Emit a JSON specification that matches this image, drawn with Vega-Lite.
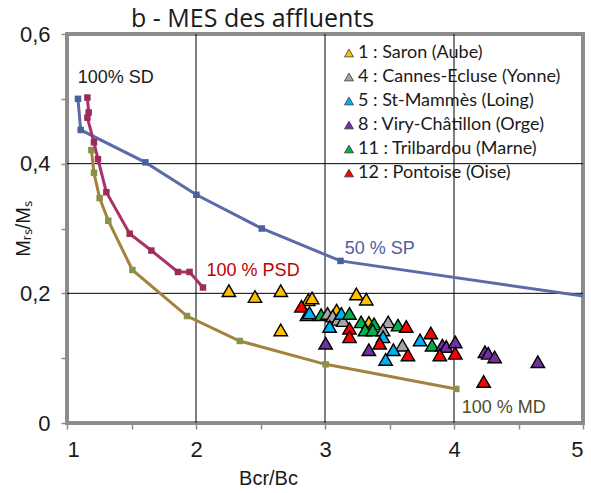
{
  "$schema": "https://vega.github.io/schema/vega-lite/v6.json",
  "width": 516,
  "height": 389,
  "autosize": {"type": "none"},
  "padding": {"left": 67, "top": 34, "right": 8, "bottom": 70},
  "background": "white",
  "config": {
    "view": {"stroke": "#8c8c8c", "strokeWidth": 4},
    "axis": {
      "domain": false, "grid": false,
      "tickColor": "#8c8c8c", "tickWidth": 1.5, "tickSize": 6,
      "labelFont": "Liberation Sans", "labelFontSize": 22, "labelColor": "#1a1a1a",
      "titleFont": "Liberation Sans", "titleFontSize": 20, "titleFontWeight": "normal", "titleColor": "#1a1a1a"
    }
  },
  "title": {"text": "b - MES des affluents", "font": "Open Sans", "fontSize": 25, "fontWeight": "normal", "anchor": "start", "frame": "group", "dx": 64, "offset": -9, "color": "#1a1a1a"},
  "datasets": {
    "curves": [
      {"c": "SP", "i": 1, "x": 1.085, "y": 0.5},
      {"c": "SP", "i": 2, "x": 1.106, "y": 0.452},
      {"c": "SP", "i": 3, "x": 1.608, "y": 0.402},
      {"c": "SP", "i": 4, "x": 2.003, "y": 0.352},
      {"c": "SP", "i": 5, "x": 2.51, "y": 0.3},
      {"c": "SP", "i": 6, "x": 3.12, "y": 0.25},
      {"c": "SP", "i": 7, "x": 6.0, "y": 0.167},
      {"c": "PSD", "i": 1, "x": 1.158, "y": 0.502},
      {"c": "PSD", "i": 2, "x": 1.168, "y": 0.479},
      {"c": "PSD", "i": 3, "x": 1.158, "y": 0.471},
      {"c": "PSD", "i": 4, "x": 1.209, "y": 0.433},
      {"c": "PSD", "i": 5, "x": 1.24, "y": 0.407},
      {"c": "PSD", "i": 6, "x": 1.305, "y": 0.356},
      {"c": "PSD", "i": 7, "x": 1.486, "y": 0.292},
      {"c": "PSD", "i": 8, "x": 1.654, "y": 0.266},
      {"c": "PSD", "i": 9, "x": 1.86, "y": 0.233},
      {"c": "PSD", "i": 10, "x": 1.95, "y": 0.233},
      {"c": "PSD", "i": 11, "x": 2.054, "y": 0.209},
      {"c": "MD", "i": 1, "x": 1.189, "y": 0.421},
      {"c": "MD", "i": 2, "x": 1.209, "y": 0.386},
      {"c": "MD", "i": 3, "x": 1.253, "y": 0.347},
      {"c": "MD", "i": 4, "x": 1.32, "y": 0.312},
      {"c": "MD", "i": 5, "x": 1.507, "y": 0.236},
      {"c": "MD", "i": 6, "x": 1.93, "y": 0.165},
      {"c": "MD", "i": 7, "x": 2.339, "y": 0.1265},
      {"c": "MD", "i": 8, "x": 3.005, "y": 0.0905},
      {"c": "MD", "i": 9, "x": 4.018, "y": 0.0525}
    ],
    "sites": [
      {"s": "1 : Saron (Aube)", "x": 2.255, "y": 0.204},
      {"s": "1 : Saron (Aube)", "x": 2.457, "y": 0.195},
      {"s": "1 : Saron (Aube)", "x": 2.657, "y": 0.204},
      {"s": "1 : Saron (Aube)", "x": 2.657, "y": 0.1435},
      {"s": "1 : Saron (Aube)", "x": 2.87, "y": 0.19},
      {"s": "1 : Saron (Aube)", "x": 2.9, "y": 0.193},
      {"s": "1 : Saron (Aube)", "x": 3.09, "y": 0.174},
      {"s": "1 : Saron (Aube)", "x": 3.243, "y": 0.199},
      {"s": "1 : Saron (Aube)", "x": 3.32, "y": 0.191},
      {"s": "1 : Saron (Aube)", "x": 3.34, "y": 0.155},
      {"s": "12 : Pontoise (Oise)", "x": 2.817, "y": 0.18},
      {"s": "5 : St-Mammès (Loing)", "x": 2.86, "y": 0.167},
      {"s": "5 : St-Mammès (Loing)", "x": 2.88, "y": 0.17},
      {"s": "11 : Trilbardou (Marne)", "x": 2.97, "y": 0.167},
      {"s": "4 : Cannes-Ecluse (Yonne)", "x": 3.02, "y": 0.169},
      {"s": "4 : Cannes-Ecluse (Yonne)", "x": 3.06, "y": 0.165},
      {"s": "4 : Cannes-Ecluse (Yonne)", "x": 3.1, "y": 0.16},
      {"s": "4 : Cannes-Ecluse (Yonne)", "x": 3.14, "y": 0.158},
      {"s": "5 : St-Mammès (Loing)", "x": 3.127, "y": 0.169},
      {"s": "5 : St-Mammès (Loing)", "x": 3.036, "y": 0.149},
      {"s": "11 : Trilbardou (Marne)", "x": 3.19, "y": 0.169},
      {"s": "11 : Trilbardou (Marne)", "x": 3.28, "y": 0.156},
      {"s": "11 : Trilbardou (Marne)", "x": 3.38, "y": 0.153},
      {"s": "4 : Cannes-Ecluse (Yonne)", "x": 3.49, "y": 0.156},
      {"s": "11 : Trilbardou (Marne)", "x": 3.566, "y": 0.151},
      {"s": "12 : Pontoise (Oise)", "x": 3.19, "y": 0.146},
      {"s": "11 : Trilbardou (Marne)", "x": 3.31, "y": 0.1435},
      {"s": "11 : Trilbardou (Marne)", "x": 3.37, "y": 0.1435},
      {"s": "4 : Cannes-Ecluse (Yonne)", "x": 3.45, "y": 0.1435},
      {"s": "12 : Pontoise (Oise)", "x": 3.63, "y": 0.149},
      {"s": "12 : Pontoise (Oise)", "x": 3.19, "y": 0.133},
      {"s": "5 : St-Mammès (Loing)", "x": 3.45, "y": 0.133},
      {"s": "8 : Viry-Châtillon (Orge)", "x": 3.005, "y": 0.123},
      {"s": "12 : Pontoise (Oise)", "x": 3.424, "y": 0.123},
      {"s": "4 : Cannes-Ecluse (Yonne)", "x": 3.6, "y": 0.12},
      {"s": "5 : St-Mammès (Loing)", "x": 3.737, "y": 0.128},
      {"s": "8 : Viry-Châtillon (Orge)", "x": 3.34, "y": 0.113},
      {"s": "5 : St-Mammès (Loing)", "x": 3.53, "y": 0.113},
      {"s": "5 : St-Mammès (Loing)", "x": 3.47, "y": 0.098},
      {"s": "12 : Pontoise (Oise)", "x": 3.643, "y": 0.105},
      {"s": "12 : Pontoise (Oise)", "x": 3.82, "y": 0.139},
      {"s": "11 : Trilbardou (Marne)", "x": 3.83, "y": 0.12},
      {"s": "8 : Viry-Châtillon (Orge)", "x": 3.91, "y": 0.12},
      {"s": "8 : Viry-Châtillon (Orge)", "x": 3.94, "y": 0.118},
      {"s": "8 : Viry-Châtillon (Orge)", "x": 4.01, "y": 0.125},
      {"s": "12 : Pontoise (Oise)", "x": 3.89, "y": 0.105},
      {"s": "12 : Pontoise (Oise)", "x": 4.01, "y": 0.1075},
      {"s": "8 : Viry-Châtillon (Orge)", "x": 4.24, "y": 0.11},
      {"s": "8 : Viry-Châtillon (Orge)", "x": 4.265, "y": 0.1075},
      {"s": "8 : Viry-Châtillon (Orge)", "x": 4.315, "y": 0.102},
      {"s": "8 : Viry-Châtillon (Orge)", "x": 4.65, "y": 0.0945},
      {"s": "12 : Pontoise (Oise)", "x": 4.23, "y": 0.064}
    ]
  },
  "layer": [
    {
      "data": {"values": [{"x": 2}, {"x": 3}, {"x": 4}]},
      "mark": {"type": "rule", "color": "black", "strokeWidth": 1},
      "encoding": {
        "x": {"field": "x", "type": "quantitative", "scale": {"domain": [1, 5], "nice": false, "zero": false},
          "axis": {"title": "Bcr/Bc", "values": [1, 1.5, 2, 2.5, 3, 3.5, 4, 4.5, 5], "labelExpr": "datum.value % 1 == 0 ? format(datum.value, 'd') : ''", "labelPadding": 10, "titleX": 201, "titlePadding": 8}}
      }
    },
    {
      "data": {"values": [{"y": 0.2}, {"y": 0.4}]},
      "mark": {"type": "rule", "color": "black", "strokeWidth": 1},
      "encoding": {
        "y": {"field": "y", "type": "quantitative", "scale": {"domain": [0, 0.6], "nice": false},
          "axis": {"title": "Mᵣₛ/Mₛ", "values": [0, 0.1, 0.2, 0.3, 0.4, 0.5, 0.6], "labelExpr": "datum.value == 0 ? '0' : (round(datum.value * 10) % 2 == 0 ? replace(format(datum.value, '.1f'), '.', ',') : '')", "labelPadding": 11, "titleX": -34}}
      }
    },
    {
      "data": {"name": "curves"},
      "transform": [{"filter": "datum.c == 'SP'"}],
      "mark": {"type": "line", "color": "#5d6aa8", "strokeWidth": 3, "clip": true},
      "encoding": {"x": {"field": "x", "type": "quantitative"}, "y": {"field": "y", "type": "quantitative"}, "order": {"field": "i"}}
    },
    {
      "data": {"name": "curves"},
      "transform": [{"filter": "datum.c == 'SP' && datum.x <= 5"}],
      "mark": {"type": "point", "shape": "square", "filled": true, "color": "#4a5f9e", "size": 42, "opacity": 1},
      "encoding": {"x": {"field": "x", "type": "quantitative"}, "y": {"field": "y", "type": "quantitative"}}
    },
    {
      "data": {"name": "curves"},
      "transform": [{"filter": "datum.c == 'MD'"}],
      "mark": {"type": "line", "color": "#a2823e", "strokeWidth": 3},
      "encoding": {"x": {"field": "x", "type": "quantitative"}, "y": {"field": "y", "type": "quantitative"}, "order": {"field": "i"}}
    },
    {
      "data": {"name": "curves"},
      "transform": [{"filter": "datum.c == 'MD'"}],
      "mark": {"type": "point", "shape": "square", "filled": true, "color": "#8a9248", "size": 42, "opacity": 1},
      "encoding": {"x": {"field": "x", "type": "quantitative"}, "y": {"field": "y", "type": "quantitative"}}
    },
    {
      "data": {"name": "curves"},
      "transform": [{"filter": "datum.c == 'PSD'"}],
      "mark": {"type": "line", "color": "#a8336a", "strokeWidth": 3},
      "encoding": {"x": {"field": "x", "type": "quantitative"}, "y": {"field": "y", "type": "quantitative"}, "order": {"field": "i"}}
    },
    {
      "data": {"name": "curves"},
      "transform": [{"filter": "datum.c == 'PSD'"}],
      "mark": {"type": "point", "shape": "square", "filled": true, "color": "#9c2b57", "size": 42, "opacity": 1},
      "encoding": {"x": {"field": "x", "type": "quantitative"}, "y": {"field": "y", "type": "quantitative"}}
    },
    {
      "data": {"name": "sites"},
      "mark": {"type": "point", "shape": "triangle-up", "filled": true, "stroke": "black", "strokeWidth": 1.4, "size": 180, "opacity": 1},
      "encoding": {
        "x": {"field": "x", "type": "quantitative"},
        "y": {"field": "y", "type": "quantitative"},
        "color": {"field": "s", "type": "nominal",
          "scale": {"domain": ["1 : Saron (Aube)", "4 : Cannes-Ecluse (Yonne)", "5 : St-Mammès (Loing)", "8 : Viry-Châtillon (Orge)", "11 : Trilbardou (Marne)", "12 : Pontoise (Oise)"],
                    "range": ["#ffc000", "#a6a6a6", "#00b0f0", "#7030a0", "#00b050", "#ff0000"]},
          "legend": {"orient": "none", "legendX": 273, "legendY": 10, "title": null, "labelFont": "Lato", "labelFontSize": 18, "labelLimit": 400, "labelColor": "#1a1a1a", "symbolSize": 80, "symbolType": "triangle-up", "symbolStrokeColor": "#333333", "symbolStrokeWidth": 0.8, "rowPadding": 6, "labelOffset": 0, "padding": 0}
        }
      }
    },
    {
      "data": {"values": [{"t": "100% SD", "x": 1.083, "y": 0.532}]},
      "mark": {"type": "text", "align": "left", "baseline": "middle", "font": "Liberation Sans", "fontSize": 18, "color": "#1a1a1a"},
      "encoding": {"x": {"field": "x", "type": "quantitative"}, "y": {"field": "y", "type": "quantitative"}, "text": {"field": "t"}}
    },
    {
      "data": {"values": [{"t": "50 % SP", "x": 3.153, "y": 0.268}]},
      "mark": {"type": "text", "align": "left", "baseline": "middle", "font": "Liberation Sans", "fontSize": 18, "color": "#4f5f9f"},
      "encoding": {"x": {"field": "x", "type": "quantitative"}, "y": {"field": "y", "type": "quantitative"}, "text": {"field": "t"}}
    },
    {
      "data": {"values": [{"t": "100 % PSD", "x": 2.082, "y": 0.235}]},
      "mark": {"type": "text", "align": "left", "baseline": "middle", "font": "Liberation Sans", "fontSize": 18, "color": "#c00000"},
      "encoding": {"x": {"field": "x", "type": "quantitative"}, "y": {"field": "y", "type": "quantitative"}, "text": {"field": "t"}}
    },
    {
      "data": {"values": [{"t": "100 % MD", "x": 4.06, "y": 0.0224}]},
      "mark": {"type": "text", "align": "left", "baseline": "middle", "font": "Liberation Sans", "fontSize": 18, "color": "#4f4a2a"},
      "encoding": {"x": {"field": "x", "type": "quantitative"}, "y": {"field": "y", "type": "quantitative"}, "text": {"field": "t"}}
    }
  ]
}
